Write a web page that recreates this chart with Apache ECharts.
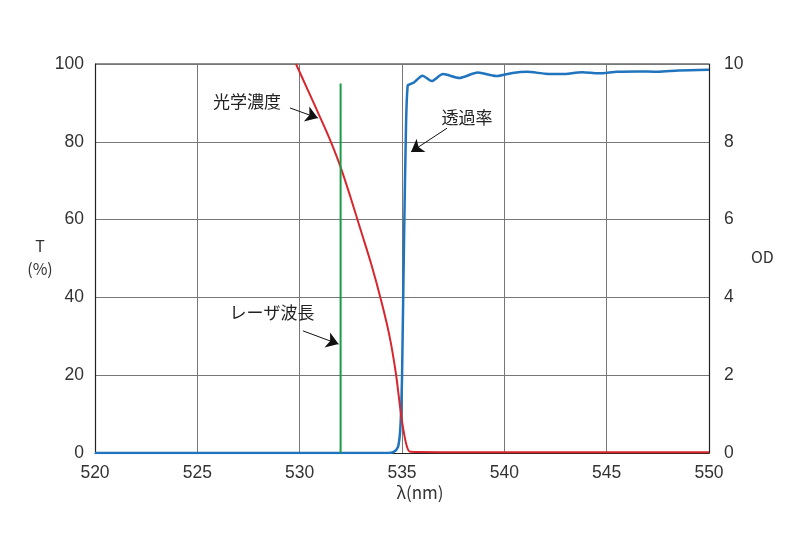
<!DOCTYPE html>
<html>
<head>
<meta charset="utf-8">
<script src="https://cdn.jsdelivr.net/npm/echarts@6/dist/echarts.min.js"></script>
<style>
  html, body { margin: 0; padding: 0; background: #fff; }
  #chart { width: 800px; height: 535px; }
</style>
</head>
<body>
<div id="chart"></div>
<script>
// 波長 (nm) と透過率 T (%)
const transWl = [520, 534.3, 534.6, 534.8, 534.9, 534.95, 535.0, 535.1, 535.2, 535.28, 535.4, 535.6,
  536.0, 536.45, 537.0, 537.8, 538.7, 539.6, 540.4, 541.1, 542.0, 542.8, 543.8, 544.6, 545.5, 546.5, 547.5, 548.5, 550];
const transT = [0, 0, 0.3, 1.5, 5, 10, 19, 55, 85, 94.5, 94.8, 95.3,
  97.0, 95.6, 97.4, 96.4, 97.8, 96.9, 97.7, 98.0, 97.5, 97.4, 97.9, 97.6, 98.0, 98.1, 98.0, 98.3, 98.5];

// 光学濃度 OD
const odWl = [529.82, 530.4, 531.0, 531.5, 532.0, 532.5, 533.0, 533.5, 534.0, 534.4, 534.7, 534.95, 535.1, 535.25, 535.4, 537, 540, 545, 550];
const odVal = [10, 9.33, 8.63, 8.03, 7.35, 6.55, 5.7, 4.85, 3.88, 2.98, 2.05, 1.0, 0.5, 0.15, 0.03, 0.02, 0.02, 0.02, 0.02];

// レーザ波長
const laserWl = 532;
const laserTop = 95;

const zip = (a, b) => a.map((v, i) => [v, b[i]]);

const chart = echarts.init(document.getElementById('chart'));
const jp = '"Noto Sans CJK JP", sans-serif';
const num = '"Liberation Sans", Arial, sans-serif';
const arrowLine = { color: '#111', width: 1, type: 'solid' };

function arrow(from, to) {
  return {
    silent: true, symbol: ['none', 'arrow'], symbolSize: 12,
    lineStyle: arrowLine, label: { show: false },
    data: [[{ coord: from }, { coord: to }]]
  };
}
function note(text, at) {
  return {
    symbol: 'circle', symbolSize: 0,
    label: { show: true, formatter: text, color: '#222', fontSize: 17, fontFamily: jp },
    data: [{ coord: at }]
  };
}

chart.setOption({
  animation: false,
  grid: { left: 95, right: 91, top: 64, bottom: 82 },
  xAxis: {
    type: 'value', min: 520, max: 550, interval: 5,
    axisLine: { show: true, lineStyle: { color: '#222', width: 1.2 } },
    axisTick: { show: false },
    axisLabel: { color: '#333', fontSize: 17.5, margin: 11, fontFamily: num },
    splitLine: { show: true, lineStyle: { color: '#777', width: 1 } }
  },
  yAxis: [{
    type: 'value', min: 0, max: 100, interval: 20,
    axisLine: { show: true, lineStyle: { color: '#222', width: 1.2 } },
    axisTick: { show: false },
    axisLabel: { color: '#333', fontSize: 17.5, margin: 11, fontFamily: num },
    splitLine: { show: true, lineStyle: { color: '#777', width: 1 } }
  }, {
    type: 'value', min: 0, max: 10, interval: 2, position: 'right',
    axisLine: { show: true, lineStyle: { color: '#222', width: 1.2 } },
    axisTick: { show: false },
    axisLabel: { color: '#333', fontSize: 17.5, margin: 15, fontFamily: num },
    splitLine: { show: false }
  }],
  graphic: [
    { type: 'text', x: 40, y: 234, style: { text: 'T\n(%)', align: 'center', fill: '#333', font: '16px ' + jp, lineHeight: 23 } },
    { type: 'text', x: 751, y: 249, style: { text: 'OD', fill: '#333', font: '16px ' + jp } },
    { type: 'text', x: 420, y: 484, style: { text: 'λ(nm)', align: 'center', fill: '#333', font: '17px ' + jp } },
    // 上枠
    { type: 'line', shape: { x1: 95, y1: 64, x2: 709, y2: 64 }, style: { stroke: '#222', lineWidth: 1.2 } }
  ],
  series: [{
    name: '透過率', type: 'line', yAxisIndex: 0, showSymbol: false, smooth: 0.25,
    data: zip(transWl, transT),
    lineStyle: { color: '#1f74bd', width: 2.5 },
    markLine: arrow([537.2, 83.5], [535.44, 77.4]),
    markPoint: note('透過率', [538.17, 86.3])
  }, {
    name: '光学濃度', type: 'line', yAxisIndex: 1, showSymbol: false, smooth: 0.3,
    data: zip(odWl, odVal),
    lineStyle: { color: '#d8262e', width: 2 },
    markLine: arrow([529.53, 8.87], [530.89, 8.61]),
    markPoint: note('光学濃度', [527.43, 9.03])
  }, {
    name: 'レーザ波長', type: 'line', yAxisIndex: 0, showSymbol: false,
    data: [[laserWl, 0], [laserWl, laserTop]],
    lineStyle: { color: '#1b9a48', width: 2 },
    markLine: arrow([530.16, 31.4], [531.9, 28.0]),
    markPoint: note('レーザ波長', [528.65, 36.0])
  }]
});
</script>
</body>
</html>
